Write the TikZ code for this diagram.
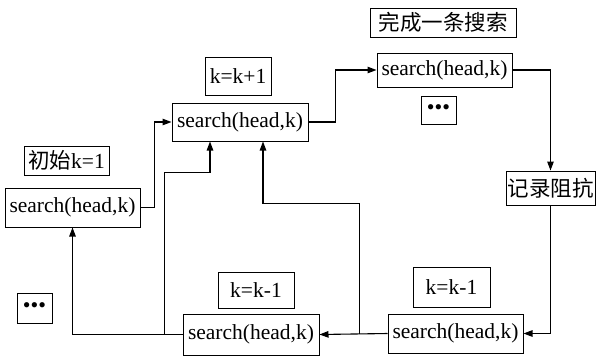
\documentclass[tikz,border=0pt]{standalone}
\usepackage{fontspec}
\setmainfont{Liberation Serif}
\newfontfamily\cjk{Noto Sans CJK SC}
\usetikzlibrary{arrows.meta,calc}

\begin{document}
\begin{tikzpicture}[x=1pt,y=-1pt,
  box/.style={draw,line width=1pt,inner sep=0pt,align=center,
    font=\fontsize{21.5}{21.5}\selectfont},
  dots/.style={box,font=\fontsize{22}{22}\selectfont},
  flow/.style={line width=1.1pt,-{Triangle[length=9pt,width=6.5pt]}}]
\useasboundingbox (0,0) rectangle (597,360);

% search calls
\node[box,minimum width=135pt,minimum height=39pt] (A) at (72.5,207.5) {search(head,k)};
\node[box,minimum width=136pt,minimum height=38pt] (B) at (240,122) {search(head,k)};
\node[box,minimum width=135pt,minimum height=34pt] (C) at (444.5,70) {search(head,k)};
\node[box,minimum width=135pt,minimum height=39pt] (D) at (455.5,333.5) {search(head,k)};
\node[box,minimum width=136pt,minimum height=41pt] (E) at (251,334.5) {search(head,k)};
\node[box,minimum width=89pt,minimum height=34pt] (R) at (550.5,188) {\cjk 记录阻抗};

% labels
\node[box,minimum width=85pt,minimum height=29pt] (LA) at (66.5,160.5) {{\cjk 初始}k=1};
\node[box,minimum width=66pt,minimum height=38pt] (LB) at (238,76) {k=k+1};
\node[box,minimum width=146pt,minimum height=29pt] (LC) at (443,22.5) {\cjk 完成一条搜索};
\node[box,minimum width=77pt,minimum height=40pt] (LD) at (451.5,287) {k=k-1};
\node[box,minimum width=76pt,minimum height=36pt] (LE) at (256,290) {k=k-1};
\node[dots,minimum width=35pt,minimum height=28pt] (DC) at (438.5,110) {•••};
\node[dots,minimum width=35pt,minimum height=30pt] (DL) at (34.5,308) {•••};

% connectors
\draw[flow] (A.east) -- ++(14,0) |- (B.west);
\draw[flow] (B.east) -- ++(27,0) |- (C.west);
\draw[flow] (C.east) -| (R.north);
\draw[flow] (R.south) |- (D.east);
\draw[flow] (D.west) -- (E.east);
\draw[flow] (E.west) -| (A.south);

\coordinate (j1) at ($(E.west)+(-18,0)$);
\coordinate (j2) at ($(D.west)+(-28,0)$);
\coordinate (b1) at ($(B.south)+(-30,0)$);
\coordinate (b2) at ($(B.south)+(23,0)$);
\draw[flow] (j1) |- ($(b1)+(0,31)$) -- (b1);
\draw[flow] (j2) |- ($(b2)+(0,62)$) -- (b2);
\end{tikzpicture}
\end{document}
